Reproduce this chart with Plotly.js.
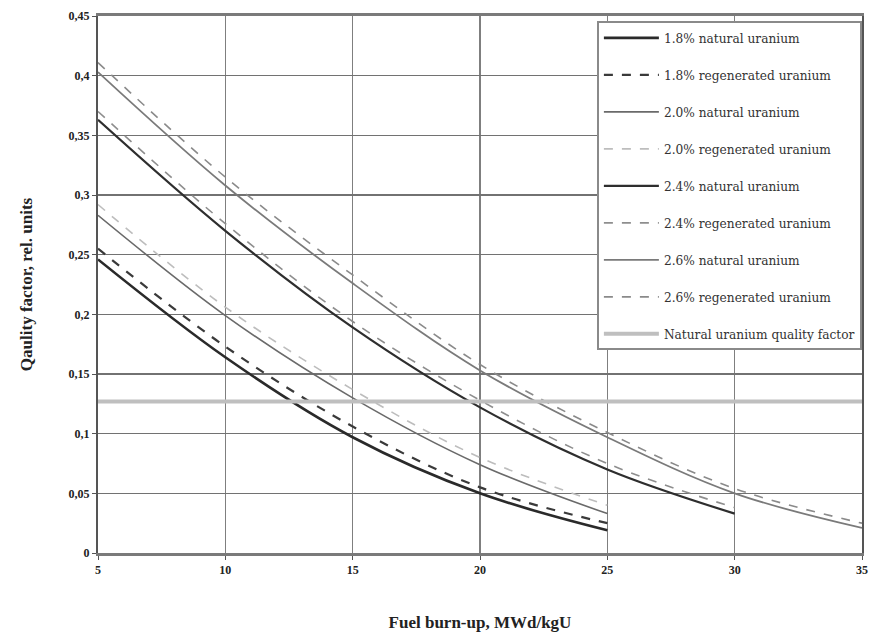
<!DOCTYPE html>
<html>
<head>
<meta charset="utf-8">
<script src="https://cdn.plot.ly/plotly-3.0.1.min.js"></script>
<style>html,body{margin:0;padding:0;background:#fff;}#chart{width:873px;height:636px;}</style>
</head>
<body>
<div id="chart"></div>
<script>
// Data
const burnup = [5, 10, 15, 20, 25, 30, 35];
const nat18 = [0.246, 0.164, 0.097, 0.050, 0.019];
const reg18 = [0.255, 0.173, 0.106, 0.055, 0.025];
const nat20 = [0.283, 0.199, 0.130, 0.074, 0.033];
const reg20 = [0.292, 0.206, 0.137, 0.080, 0.040];
const nat24 = [0.363, 0.270, 0.189, 0.122, 0.070, 0.033];
const reg24 = [0.370, 0.276, 0.194, 0.128, 0.075, 0.038];
const nat26 = [0.403, 0.308, 0.226, 0.153, 0.097, 0.050, 0.021];
const reg26 = [0.411, 0.315, 0.233, 0.158, 0.101, 0.054, 0.025];
const naturalRange = [5, 35];
const naturalQF = [0.127, 0.127];
const seriesNames = [
  "1.8% natural uranium", "1.8% regenerated uranium",
  "2.0% natural uranium", "2.0% regenerated uranium",
  "2.4% natural uranium", "2.4% regenerated uranium",
  "2.6% natural uranium", "2.6% regenerated uranium",
  "Natural uranium quality factor"
];
const yTickVals = [0, 0.05, 0.1, 0.15, 0.2, 0.25, 0.3, 0.35, 0.4, 0.45];
const yTickText = ["0", "0,05", "0,1", "0,15", "0,2", "0,25", "0,3", "0,35", "0,4", "0,45"];
const xTickVals = [5, 10, 15, 20, 25, 30, 35];

const styles = [
  {color: "#2a2a2a", width: 2.6, dash: "solid"},
  {color: "#3a3a3a", width: 2.2, dash: "dash"},
  {color: "#6a6a6a", width: 1.6, dash: "solid"},
  {color: "#bdbdbd", width: 1.6, dash: "dash"},
  {color: "#2e2e2e", width: 2.2, dash: "solid"},
  {color: "#8e8e8e", width: 1.6, dash: "dash"},
  {color: "#7a7a7a", width: 1.8, dash: "solid"},
  {color: "#8a8a8a", width: 1.6, dash: "dash"},
  {color: "#bfbfbf", width: 4, dash: "solid"}
];
const ys = [nat18, reg18, nat20, reg20, nat24, reg24, nat26, reg26];
const traces = ys.map((y, i) => ({
  x: burnup.slice(0, y.length), y: y, type: "scatter", mode: "lines",
  name: seriesNames[i], legendgroup: "g" + i,
  line: {color: styles[i].color, width: styles[i].width, dash: styles[i].dash, shape: "spline", smoothing: 1}
}));
traces.push({
  x: naturalRange, y: naturalQF, type: "scatter", mode: "lines",
  name: seriesNames[8], legendgroup: "g8",
  line: {color: styles[8].color, width: styles[8].width}
});

const font = "Liberation Serif, Times New Roman, serif";
const layout = {
  width: 873, height: 636,
  paper_bgcolor: "#fff", plot_bgcolor: "#fff",
  margin: {l: 98, r: 11, t: 16, b: 83},
  font: {family: font, color: "#222"},
  showlegend: true,
  legend: {
    x: 0.653, y: 0.99, xanchor: "left", yanchor: "top",
    bgcolor: "#fff", bordercolor: "#8a8a8a", borderwidth: 2,
    font: {family: "DejaVu Serif, serif", size: 12.2, color: "#333"},
    tracegroupgap: 18, itemwidth: 55
  },
  xaxis: {
    range: [5, 35], tickvals: xTickVals, ticktext: xTickVals.map(String),
    showgrid: true, gridcolor: "#7f7f7f", gridwidth: 1.5,
    showline: true, linecolor: "#7a7a7a", linewidth: 3, mirror: true,
    ticks: "outside", ticklen: 4, tickcolor: "#555",
    tickfont: {family: font, size: 12, color: "#222", weight: "bold"},
    zeroline: false,
    title: {text: "<b>Fuel burn-up, MWd/kgU</b>", font: {family: font, size: 17, color: "#222"}, standoff: 40}
  },
  yaxis: {
    range: [0, 0.45], tickvals: yTickVals, ticktext: yTickText,
    showgrid: true, gridcolor: "#727272", gridwidth: 1.5,
    showline: true, linecolor: "#555", linewidth: 2, mirror: true,
    ticks: "outside", ticklen: 4, tickcolor: "#555",
    tickfont: {family: font, size: 12, color: "#222", weight: "bold"},
    zeroline: false,
    title: {text: "<b>Qaulity factor, rel. units</b>", font: {family: font, size: 17, color: "#222"}, standoff: 32}
  }
};
Plotly.newPlot("chart", traces, layout, {displayModeBar: false, staticPlot: true});
</script>
</body>
</html>
